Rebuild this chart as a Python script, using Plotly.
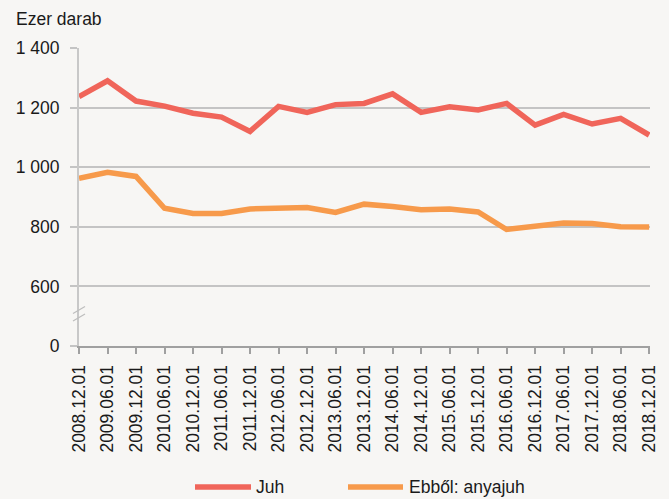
import plotly.graph_objects as go

dates = ["2008.12.01", "2009.06.01", "2009.12.01", "2010.06.01", "2010.12.01", "2011.06.01",
         "2011.12.01", "2012.06.01", "2012.12.01", "2013.06.01", "2013.12.01", "2014.06.01",
         "2014.12.01", "2015.06.01", "2015.12.01", "2016.06.01", "2016.12.01", "2017.06.01",
         "2017.12.01", "2018.06.01", "2018.12.01"]
juh = [1237, 1290, 1222, 1205, 1181, 1168, 1120, 1204, 1184, 1210, 1214, 1246, 1184,
       1203, 1192, 1214, 1141, 1177, 1145, 1164, 1108]
anyajuh = [963, 983, 969, 862, 845, 845, 860, 864, 865, 848, 876, 868, 857, 860, 850,
           791, 802, 813, 811, 800, 799]
tick_vals = [400, 600, 800, 1000, 1200, 1400]
tick_text = ["0", "600", "800", "1 000", "1 200", "1 400"]
series_names = ["Juh", "Ebből: anyajuh"]
colors = ["#F0655A", "#F79A4B"]

W, H = 669, 499
L, R, T, B = 79, 650, 48, 346
FONT = "Liberation Sans, Arial, sans-serif"
FS = 17.5

def px(x):
    return (x - L) / (R - L)

def py(y):
    return (B - y) / (B - T)

fig = go.Figure()
for name, vals, c in zip(series_names, [juh, anyajuh], colors):
    fig.add_trace(go.Scatter(x=dates, y=vals, mode="lines", name=name,
                             line=dict(color=c, width=5.5), showlegend=False))

shapes = [
    dict(type="line", xref="paper", yref="paper", x0=px(73), y0=py(313.5), x1=px(85), y1=py(306.5),
         line=dict(color="#BDBDBD", width=1.2)),
    dict(type="line", xref="paper", yref="paper", x0=px(73), y0=py(321), x1=px(85), y1=py(314),
         line=dict(color="#BDBDBD", width=1.2)),
]
annotations = [
    dict(text="Ezer darab", xref="paper", yref="paper", x=px(14), y=py(19), xanchor="left",
         yanchor="middle", showarrow=False, font=dict(size=FS, color="#1a1a1a", family=FONT)),
]
legend_pos = [(195, 251, 254), (348, 403, 407)]
for (x0, x1, xt), name, c in zip(legend_pos, series_names, colors):
    shapes.append(dict(type="line", xref="paper", yref="paper", x0=px(x0), x1=px(x1),
                       y0=py(487), y1=py(487), line=dict(color=c, width=5.5)))
    annotations.append(dict(text=name, xref="paper", yref="paper", x=px(xt), y=py(487),
                            xanchor="left", yanchor="middle", showarrow=False,
                            font=dict(size=FS, color="#1a1a1a", family=FONT)))

fig.update_layout(
    width=W, height=H,
    margin=dict(l=L, r=W - R, t=T, b=H - B, pad=0),
    paper_bgcolor="#F7F6F4", plot_bgcolor="#F7F6F4",
    font=dict(family=FONT, size=FS, color="#1a1a1a"),
    shapes=shapes, annotations=annotations,
    xaxis=dict(type="category", range=[0, 20.03], showgrid=False, showline=True,
               linecolor="#A0A0A0", linewidth=2, ticks="outside", ticklen=6, tickwidth=2,
               tickcolor="#A0A0A0", tickangle=-90, ticklabelstandoff=4, automargin=False,
               tickfont=dict(size=FS)),
    yaxis=dict(range=[400, 1400], tickvals=tick_vals, ticktext=tick_text, showgrid=True,
               gridcolor="#C4C4C4", gridwidth=1.5, showline=True, linecolor="#C8C8C8",
               linewidth=2, ticks="outside", ticklen=7, tickcolor="#C4C4C4", tickwidth=1.5,
               ticklabelstandoff=7, zeroline=False, automargin=False, tickfont=dict(size=FS)),
)
fig.write_html("out.html", config={"displayModeBar": False},
               post_script="document.body.style.margin='0';document.body.style.background='#F7F6F4';")
